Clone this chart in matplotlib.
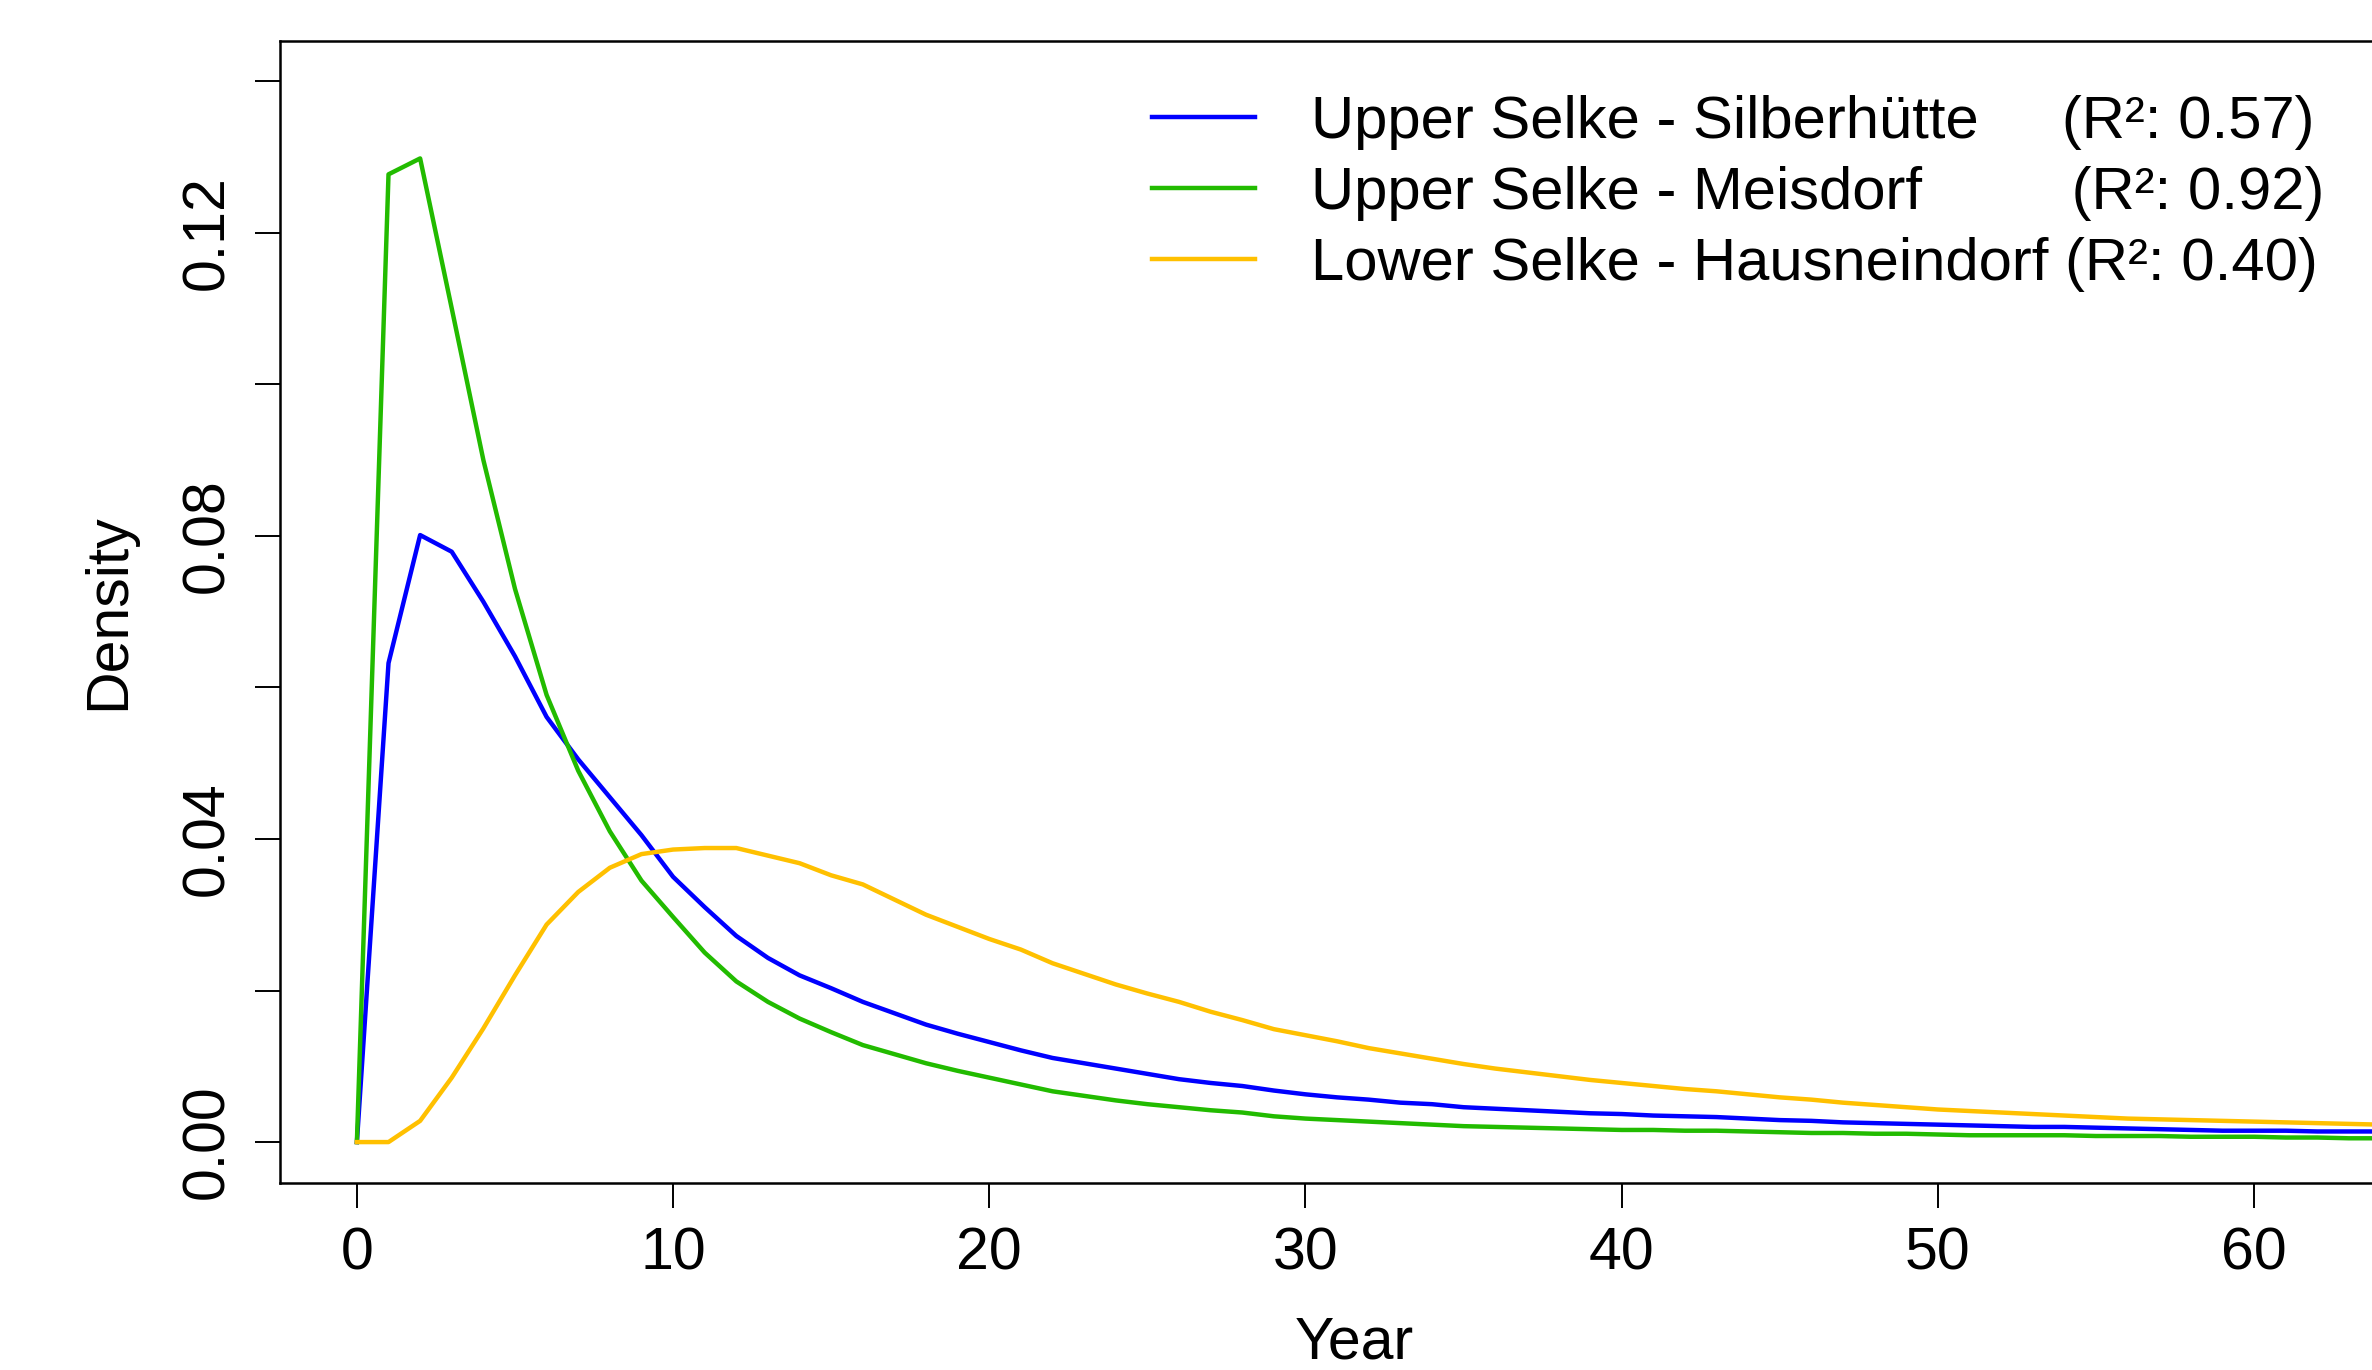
import matplotlib
matplotlib.use("Agg")
import matplotlib.pyplot as plt

plt.rcParams['font.family'] = ['Liberation Sans', 'DejaVu Sans']

# yearly density values
years = list(range(0, 65))

silberhuette = [0.0, 0.0632, 0.0801, 0.0779, 0.0713, 0.0641, 0.0561, 0.0505, 0.0455, 0.0405,
                0.0350, 0.0310, 0.0272, 0.0243, 0.0220, 0.0203, 0.0185, 0.0170, 0.0155, 0.0143,
                0.0132, 0.0121, 0.0111, 0.0104, 0.0097, 0.0090, 0.0083, 0.0078, 0.0074, 0.0068,
                0.0063, 0.0059, 0.0056, 0.0052, 0.0050, 0.0046, 0.0044, 0.0042, 0.0040, 0.0038,
                0.0037, 0.0035, 0.0034, 0.0033, 0.0031, 0.0029, 0.0028, 0.0026, 0.0025, 0.0024,
                0.0023, 0.0022, 0.0021, 0.0020, 0.0020, 0.0019, 0.0018, 0.0017, 0.0016, 0.0015,
                0.0015, 0.0015, 0.0014, 0.0014, 0.0014]

meisdorf = [0.0, 0.1277, 0.1298, 0.1100, 0.0900, 0.0730, 0.0590, 0.0490, 0.0410, 0.0345,
            0.0297, 0.0250, 0.0212, 0.0185, 0.0163, 0.0145, 0.0128, 0.0116, 0.0104, 0.0094,
            0.0085, 0.0076, 0.0067, 0.0061, 0.0055, 0.0050, 0.0046, 0.0042, 0.0039, 0.0034,
            0.0031, 0.0029, 0.0027, 0.0025, 0.0023, 0.0021, 0.0020, 0.0019, 0.0018, 0.0017,
            0.0016, 0.0016, 0.0015, 0.0015, 0.0014, 0.0013, 0.0012, 0.0012, 0.0011, 0.0011,
            0.0010, 0.0009, 0.0009, 0.0009, 0.0009, 0.0008, 0.0008, 0.0008, 0.0007, 0.0007,
            0.0007, 0.0006, 0.0006, 0.0005, 0.0005]

hausneindorf = [0.0, 0.0, 0.0028, 0.0085, 0.0150, 0.0220, 0.0287, 0.0330, 0.0362, 0.0380,
                0.0386, 0.0388, 0.0388, 0.0378, 0.0368, 0.0352, 0.0340, 0.0320, 0.0300, 0.0284,
                0.0268, 0.0254, 0.0236, 0.0222, 0.0208, 0.0196, 0.0185, 0.0172, 0.0161, 0.0149,
                0.0141, 0.0133, 0.0124, 0.0117, 0.0110, 0.0103, 0.0097, 0.0092, 0.0087, 0.0082,
                0.0078, 0.0074, 0.0070, 0.0067, 0.0063, 0.0059, 0.0056, 0.0052, 0.0049, 0.0046,
                0.0043, 0.0041, 0.0039, 0.0037, 0.0035, 0.0033, 0.0031, 0.0030, 0.0029, 0.0028,
                0.0027, 0.0026, 0.0025, 0.0024, 0.0023]

labels = ["Upper Selke - Silberhütte     (R²: 0.57)",
          "Upper Selke - Meisdorf         (R²: 0.92)",
          "Lower Selke - Hausneindorf (R²: 0.40)"]
colors = ["#0000FF", "#22BB00", "#FFC000"]

xticks = [0, 10, 20, 30, 40, 50, 60]
yticks = [0.00, 0.02, 0.04, 0.06, 0.08, 0.10, 0.12, 0.14]
ytick_labels = ["0.00", "", "0.04", "", "0.08", "", "0.12", ""]

fig = plt.figure(figsize=(23.72, 13.70), dpi=100)
ax = fig.add_axes([0.1180, 0.1365, 0.9056, 0.8336])

for series, lab, col in zip([silberhuette, meisdorf, hausneindorf], labels, colors):
    ax.plot(years, series, color=col, lw=3.2, label=lab)

ax.set_xlim(-2.435, 65.5)
ax.set_ylim(-0.0054, 0.1453)

ax.set_xticks(xticks)
ax.set_xticklabels([str(t) for t in xticks])
ax.set_yticks(yticks)
ax.set_yticklabels(ytick_labels, rotation=90, va='center')

ax.tick_params(axis='both', length=18, width=1.4, labelsize=42.5)
ax.tick_params(axis='x', pad=13)
ax.tick_params(axis='y', pad=14)
for sp in ax.spines.values():
    sp.set_linewidth(1.8)

ax.set_xlabel("Year", fontsize=42.5, labelpad=25)
ax.set_ylabel("Density", fontsize=42.5, labelpad=32)

ax.legend(loc='center left', bbox_to_anchor=(0.4730, 0.859), bbox_transform=fig.transFigure,
          frameon=False, fontsize=43, borderpad=0, handlelength=1.72, handletextpad=0.95,
          labelspacing=0.27)

fig.savefig("out.png", dpi=100)
